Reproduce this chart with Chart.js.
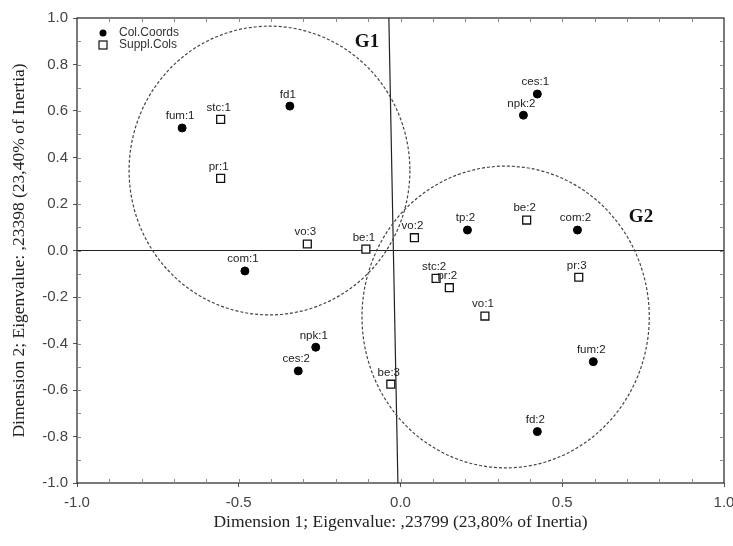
<!DOCTYPE html>
<html>
<head>
<meta charset="utf-8">
<script src="https://cdn.jsdelivr.net/npm/chart.js@4"></script>
<style>
  html, body { margin: 0; padding: 0; background: #fff; }
  #wrap { width: 733px; height: 546px; position: relative; }
</style>
</head>
<body>
<div id="wrap"><canvas id="myChart"></canvas></div>
<script>
// Column coordinates (filled dots)
var colNames = ["fum:1", "fd1", "ces:1", "npk:2", "tp:2", "com:2", "com:1", "npk:1", "ces:2", "fum:2", "fd:2"];
var colX = [-0.675, -0.342, 0.423, 0.380, 0.207, 0.547, -0.481, -0.262, -0.316, 0.596, 0.423];
var colY = [0.527, 0.621, 0.673, 0.582, 0.088, 0.088, -0.088, -0.416, -0.518, -0.478, -0.779];

// Supplementary columns (open squares)
var supNames = ["stc:1", "pr:1", "vo:3", "be:1", "vo:2", "be:2", "pr:3", "stc:2", "pr:2", "vo:1", "be:3"];
var supX = [-0.556, -0.556, -0.288, -0.107, 0.043, 0.390, 0.551, 0.110, 0.151, 0.261, -0.030];
var supY = [0.564, 0.310, 0.028, 0.006, 0.055, 0.131, -0.115, -0.120, -0.160, -0.282, -0.575];

// group ellipses: name, center x, center y, radius x, radius y (data units)
var groupNames = ["G1", "G2"];
var groupCx = [-0.405, 0.325];
var groupCy = [0.344, -0.286];
var groupRx = [0.434, 0.444];
var groupRy = [0.621, 0.649];

// vertical reference line (slightly off x=0 in the original), top and bottom x
var vLineX = [-0.036, -0.008];

var xTicks = [-1.0, -0.5, 0.0, 0.5, 1.0];
var yTicks = [1.0, 0.8, 0.6, 0.4, 0.2, 0.0, -0.2, -0.4, -0.6, -0.8, -1.0];

function toPoints(xs, ys) {
  return xs.map(function (x, i) { return { x: x, y: ys[i] }; });
}

var chartCanvas = document.getElementById('myChart');

var data = {
  datasets: [{
    label: "Col.Coords",
    data: toPoints(colX, colY),
    names: colNames,
    pointStyle: 'circle',
    pointRadius: 4,
    backgroundColor: "#000",
    borderColor: "#000",
    borderWidth: 1
  },
  {
    label: "Suppl.Cols",
    data: toPoints(supX, supY),
    names: supNames,
    pointStyle: 'rect',
    pointRadius: 5.6,
    backgroundColor: "#fff",
    borderColor: "#111",
    borderWidth: 1.3
  }]
};

// frame, zero lines, minor ticks, ellipses, labels, legend
var extras = {
  id: 'extras',
  beforeDatasetsDraw: function (chart) {
    var ctx = chart.ctx, a = chart.chartArea;
    var xs = chart.scales.x, ys = chart.scales.y;
    ctx.save();
    // frame
    ctx.strokeStyle = "#222";
    ctx.lineWidth = 1.2;
    ctx.strokeRect(a.left, a.top, a.right - a.left, a.bottom - a.top);
    // minor ticks inside the frame
    ctx.strokeStyle = "#888";
    ctx.lineWidth = 1;
    ctx.beginPath();
    for (var i = -9; i <= 9; i++) {
      var px = Math.round(xs.getPixelForValue(i / 10)) + 0.5;
      ctx.moveTo(px, a.top); ctx.lineTo(px, a.top + 4);
      ctx.moveTo(px, a.bottom); ctx.lineTo(px, a.bottom - 4);
      var py = Math.round(ys.getPixelForValue(i / 10)) + 0.5;
      ctx.moveTo(a.left, py); ctx.lineTo(a.left + 4, py);
      ctx.moveTo(a.right, py); ctx.lineTo(a.right - 4, py);
    }
    ctx.stroke();
    // zero lines
    ctx.strokeStyle = "#222";
    ctx.lineWidth = 1.2;
    ctx.beginPath();
    ctx.moveTo(a.left, ys.getPixelForValue(0));
    ctx.lineTo(a.right, ys.getPixelForValue(0));
    ctx.moveTo(xs.getPixelForValue(vLineX[0]), a.top);
    ctx.lineTo(xs.getPixelForValue(vLineX[1]), a.bottom);
    ctx.stroke();
    // group ellipses
    ctx.strokeStyle = "#444";
    ctx.lineWidth = 1.2;
    ctx.setLineDash([3, 2]);
    for (var g = 0; g < groupNames.length; g++) {
      var cx = xs.getPixelForValue(groupCx[g]);
      var cy = ys.getPixelForValue(groupCy[g]);
      var rx = xs.getPixelForValue(groupCx[g] + groupRx[g]) - cx;
      var ry = cy - ys.getPixelForValue(groupCy[g] + groupRy[g]);
      ctx.beginPath();
      ctx.ellipse(cx, cy, rx, ry, 0, 0, Math.PI * 2);
      ctx.stroke();
    }
    ctx.setLineDash([]);
    // group names
    ctx.fillStyle = "#111";
    ctx.font = "bold 19px 'Liberation Serif', serif";
    ctx.textAlign = "center";
    ctx.textBaseline = "middle";
    ctx.fillText(groupNames[0], 367, 42);
    ctx.fillText(groupNames[1], 641, 217);
    ctx.restore();
  },
  afterDatasetsDraw: function (chart) {
    var ctx = chart.ctx, a = chart.chartArea;
    ctx.save();
    ctx.fillStyle = "#222";
    ctx.font = "11.5px 'Liberation Sans', Arial, sans-serif";
    ctx.textAlign = "center";
    ctx.textBaseline = "bottom";
    chart.data.datasets.forEach(function (ds, di) {
      var meta = chart.getDatasetMeta(di);
      meta.data.forEach(function (pt, i) {
        ctx.fillText(ds.names[i], pt.x - 2, pt.y - 6);
      });
    });
    // legend
    var lx = a.left + 26, ly = a.top + 15;
    ctx.fillStyle = "#000";
    ctx.beginPath();
    ctx.arc(lx, ly, 3.5, 0, Math.PI * 2);
    ctx.fill();
    ctx.strokeStyle = "#111";
    ctx.lineWidth = 1.2;
    ctx.strokeRect(lx - 4, ly + 8, 8, 8);
    ctx.fillStyle = "#333";
    ctx.font = "12px 'Liberation Sans', Arial, sans-serif";
    ctx.textAlign = "left";
    ctx.textBaseline = "middle";
    ctx.fillText(chart.data.datasets[0].label, lx + 16, ly);
    ctx.fillText(chart.data.datasets[1].label, lx + 16, ly + 12);
    ctx.restore();
  }
};

var options = {
  responsive: true,
  maintainAspectRatio: false,
  animation: false,
  layout: { padding: { top: 18, right: 9, left: 0, bottom: 0 } },
  plugins: {
    legend: { display: false },
    tooltip: { enabled: false }
  },
  scales: {
    x: {
      type: 'linear',
      min: -1,
      max: 1,
      afterFit: function (s) { s.height = 63; s.paddingRight = 0; s.paddingLeft = 0; },
      afterBuildTicks: function (s) { s.ticks = xTicks.map(function (v) { return { value: v }; }); },
      ticks: {
        callback: function (v) { return v.toFixed(1); },
        color: "#444",
        font: { family: "'Liberation Sans', Arial, sans-serif", size: 15 },
        padding: 7,
        maxRotation: 0
      },
      grid: { drawOnChartArea: false, drawTicks: true, tickLength: 4, color: "#555" },
      border: { display: false },
      title: {
        display: true,
        text: "Dimension 1; Eigenvalue: ,23799 (23,80% of Inertia)",
        color: "#222",
        font: { family: "'Liberation Serif', 'Times New Roman', serif", size: 17.5 },
        padding: { top: 0, bottom: 13 }
      }
    },
    y: {
      type: 'linear',
      min: -1,
      max: 1,
      afterFit: function (s) { s.width = 77; s.paddingTop = 0; s.paddingBottom = 0; },
      afterBuildTicks: function (s) { s.ticks = yTicks.map(function (v) { return { value: v }; }); },
      ticks: {
        callback: function (v) { return v.toFixed(1); },
        color: "#444",
        font: { family: "'Liberation Sans', Arial, sans-serif", size: 15 },
        padding: 5
      },
      grid: { drawOnChartArea: false, drawTicks: true, tickLength: 4, color: "#555" },
      border: { display: false },
      title: {
        display: true,
        text: "Dimension 2; Eigenvalue: ,23398 (23,40% of Inertia)",
        color: "#222",
        font: { family: "'Liberation Serif', 'Times New Roman', serif", size: 17.5 },
        padding: { top: 9, bottom: 0 }
      }
    }
  }
};

var myChart = new Chart(chartCanvas, {
  type: 'scatter',
  data: data,
  options: options,
  plugins: [extras]
});
</script>
</body>
</html>
